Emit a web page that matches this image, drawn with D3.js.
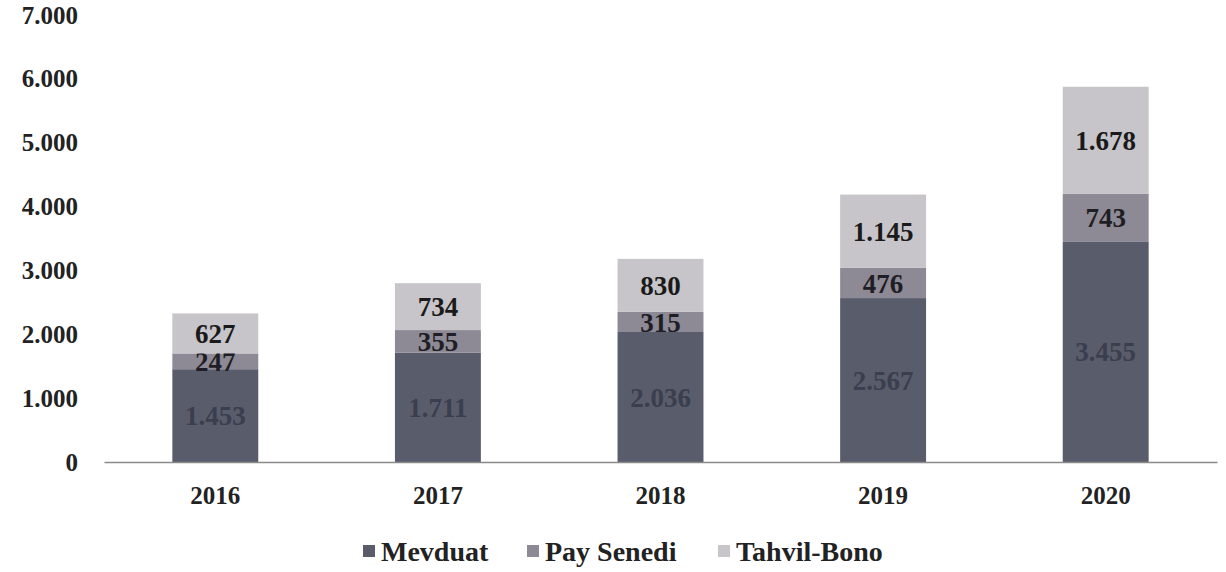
<!DOCTYPE html>
<html><head><meta charset="utf-8">
<script src="https://cdn.jsdelivr.net/npm/d3@7"></script>
<style>body{margin:0;background:#fff}svg{display:block}text{font-family:"Liberation Serif","Times New Roman",serif;font-weight:bold}</style>
</head><body><svg id="c" width="1226" height="572"></svg>
<script>
const years = ["2016","2017","2018","2019","2020"];
const seriesNames = ["Mevduat","Pay Senedi","Tahvil-Bono"];
const mevduat = [1453,1711,2036,2567,3455];
const paySenedi = [247,355,315,476,743];
const tahvilBono = [627,734,830,1145,1678];
const yTicks = [0,1000,2000,3000,4000,5000,6000,7000];
const colors = ["#595c6a","#8d8995","#c7c5c9"];
const labelColors = ["#3b3e4e","#1e1e24","#1a1a1a"];

const svg = d3.select("#c");
const x = d3.scaleBand().domain(years).range([104,1217]).paddingInner(0.614).paddingOuter(0.307);
const y = d3.scaleLinear().domain([0,7000]).range([462,15]);
const fmt = v => d3.format(",")(v).replace(/,/g,".");

const rows = years.map((yr,i)=>({year:yr,"Mevduat":mevduat[i],"Pay Senedi":paySenedi[i],"Tahvil-Bono":tahvilBono[i]}));
const stack = d3.stack().keys(seriesNames)(rows);

// y axis labels
const ya = svg.append("g").attr("transform","translate(78,0)")
  .call(d3.axisLeft(y).tickValues(yTicks).tickSize(0).tickPadding(0).tickFormat(v=>v===0?"0":fmt(v)));
ya.select(".domain").remove();
ya.selectAll("text").attr("font-size",25).attr("fill","#222").attr("font-family","Liberation Serif, serif").attr("font-weight","bold");

stack.forEach((s,si)=>{
  const g = svg.append("g");
  g.selectAll("rect").data(s).join("rect")
    .attr("x",d=>x(d.data.year)).attr("width",x.bandwidth())
    .attr("y",d=>y(d[1])).attr("height",d=>y(d[0])-y(d[1]))
    .attr("fill",colors[si]);
  g.selectAll("text").data(s).join("text")
    .attr("x",d=>x(d.data.year)+x.bandwidth()/2)
    .attr("y",d=>(y(d[0])+y(d[1]))/2)
    .attr("dy","0.36em").attr("text-anchor","middle")
    .attr("font-size",27).attr("fill",labelColors[si])
    .text(d=>fmt(d[1]-d[0]));
});

// x axis
const xa = svg.append("g").attr("transform","translate(0,462)")
  .call(d3.axisBottom(x).tickSize(0).tickPadding(24));
xa.select(".domain").attr("stroke","#8a8a8a").attr("stroke-width",1.5);
xa.selectAll("text").attr("font-size",25).attr("fill","#222").attr("font-family","Liberation Serif, serif").attr("font-weight","bold");

// legend
const legX = [363,527,718];
const leg = svg.append("g");
seriesNames.forEach((n,i)=>{
  leg.append("rect").attr("x",legX[i]).attr("y",545).attr("width",12).attr("height",12).attr("fill",colors[i]);
  leg.append("text").attr("x",legX[i]+18).attr("y",551).attr("dy","0.36em").attr("font-size",28).attr("fill","#222").text(n);
});
</script></body></html>
